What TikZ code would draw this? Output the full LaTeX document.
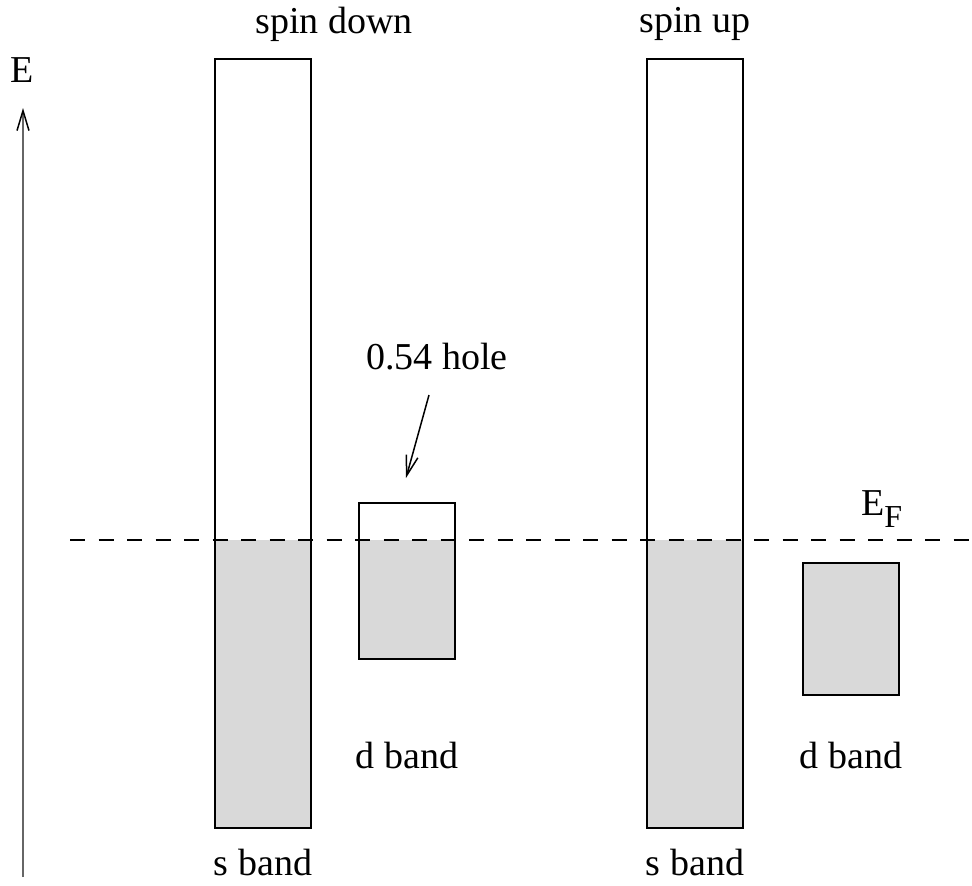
\documentclass[tikz,border=0pt]{standalone}
\usepackage{fontspec}
\setmainfont{Liberation Serif}
\usetikzlibrary{arrows.meta}
\begin{document}
\begin{tikzpicture}[x=1pt,y=-1pt,
  lbl/.style={font=\fontsize{38}{44}\selectfont, inner sep=0pt},
  band/.style={draw=black, line width=2.2pt},
  filled/.style={fill=black!15},
]
\useasboundingbox (0,0) rectangle (972,886);
% fills
\fill[filled] (215,540) rectangle (311,828);
\fill[filled] (359,540) rectangle (455,659);
\fill[filled] (647,540) rectangle (743,828);
\fill[filled] (803,563) rectangle (899,695);
% dashed Fermi level
\draw[line width=2.5pt, dash pattern=on 15pt off 13.5pt] (70,540) -- (972,540);
% bands
\draw[band] (215,59) rectangle (311,828);
\draw[band] (359,503) rectangle (455,659);
\draw[band] (647,59) rectangle (743,828);
\draw[band] (803,563) rectangle (899,695);
% energy axis
\coordinate (axb) at (23,877);
\coordinate (axt) at (23,108);
\draw[line width=2pt, draw=black!60, -{Straight Barb[length=20pt,width=12pt,line width=1.5pt,black]}] (axb) -- (axt);
\node[lbl] (E) at (22,70) {E};
% labels
\node[lbl] (sd) at (334,24) {spin down};
\node[lbl] (su) at (695,24) {spin up};
\node[lbl] (hole) at (437,357) {0.54 hole};
\node[lbl, anchor=base west] (EF) at (861,515) {E\raisebox{-12pt}{\fontsize{32}{36}\selectfont F}};
\node[lbl] (db1) at (407,755) {d band};
\node[lbl] (db2) at (851,755) {d band};
\node[lbl] (sb1) at (263,862) {s band};
\node[lbl] (sb2) at (695,862) {s band};
% hole arrow
\coordinate (hs) at (429,395);
\coordinate (he) at (406,478);
\draw[line width=1.5pt, -{Straight Barb[length=20pt,width=12pt,line width=1.5pt]}] (hs) -- (he);
\end{tikzpicture}
\end{document}
